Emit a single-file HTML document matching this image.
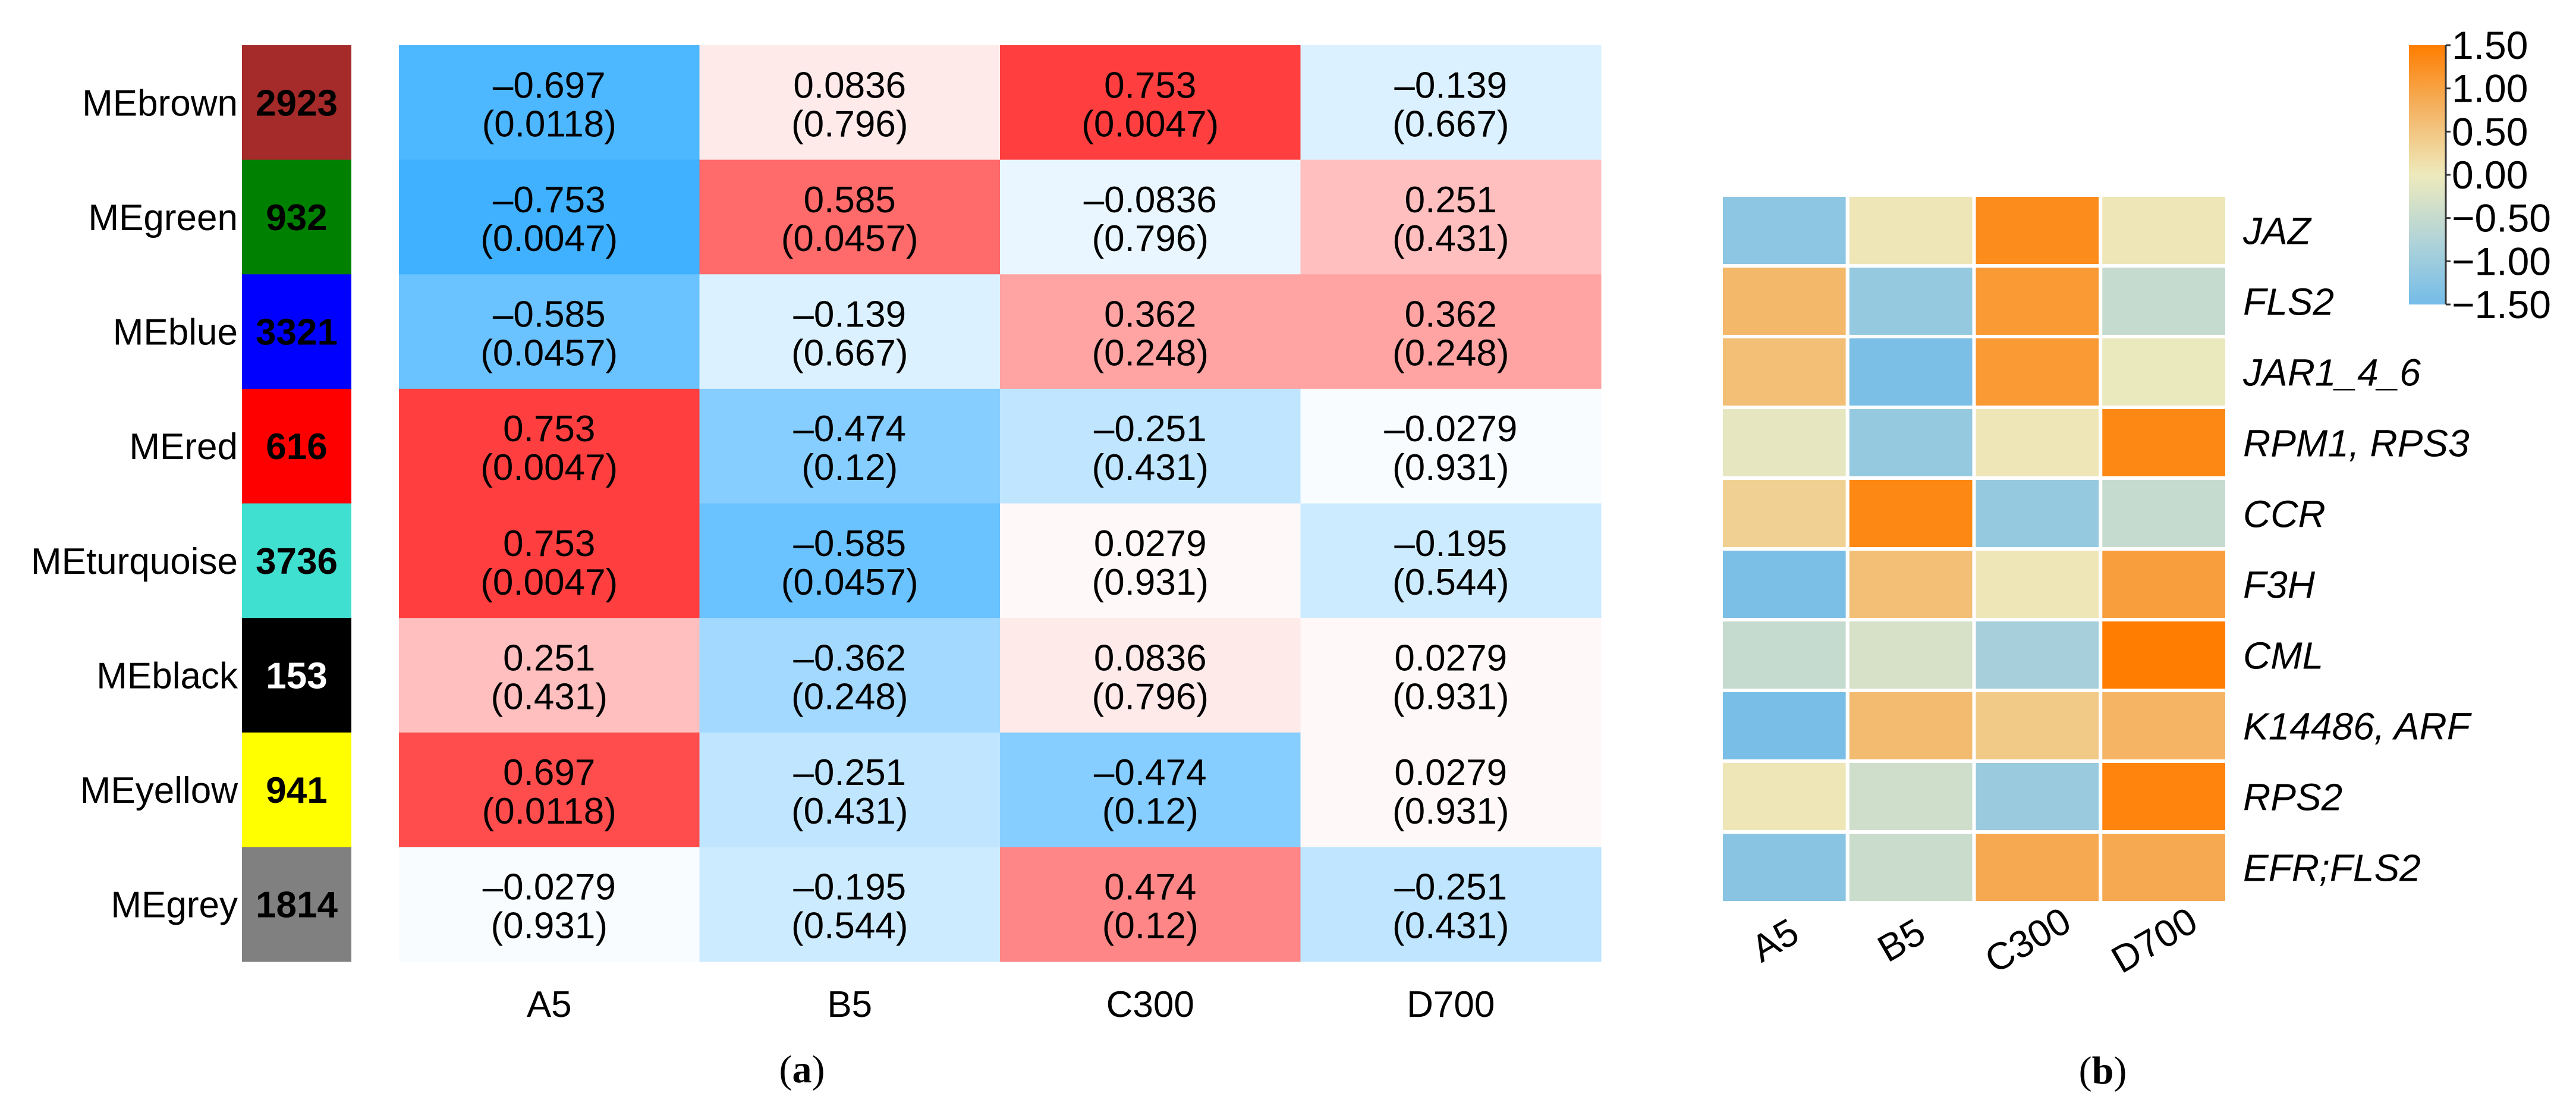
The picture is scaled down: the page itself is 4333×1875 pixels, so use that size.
<!DOCTYPE html>
<html><head><meta charset="utf-8">
<style>
html,body{margin:0;padding:0;background:#fff;}
svg{display:block;}
text{font-family:"Liberation Sans",Arial,sans-serif;}
</style></head>
<body>
<svg id="fig" xmlns="http://www.w3.org/2000/svg" width="4333" height="1875" viewBox="0 0 4333 1875">
<rect width="4333" height="1875" fill="#fff"/>
<g id="panelA"></g>
<g id="panelB"></g>
<text x="1349" y="1820" font-size="66" text-anchor="middle" style="font-family:'Liberation Serif',serif">(<tspan font-weight="bold">a</tspan>)</text>
<text x="3537" y="1822" font-size="66" text-anchor="middle" style="font-family:'Liberation Serif',serif">(<tspan font-weight="bold">b</tspan>)</text>
</svg>
<script>
// ----- Panel A data -----
const modules = ["MEbrown","MEgreen","MEblue","MEred","MEturquoise","MEblack","MEyellow","MEgrey"];
const moduleColors = ["#a52a2a","#008000","#0000ff","#ff0000","#40e0d0","#000000","#ffff00","#808080"];
const moduleSizes = ["2923","932","3321","616","3736","153","941","1814"];
const traits = ["A5","B5","C300","D700"];
const corrA5 = [-0.697,-0.753,-0.585,0.753,0.753,0.251,0.697,-0.0279];
const corrB5 = [0.0836,0.585,-0.139,-0.474,-0.585,-0.362,-0.251,-0.195];
const corrC300 = [0.753,-0.0836,0.362,-0.251,0.0279,0.0836,-0.474,0.474];
const corrD700 = [-0.139,0.251,0.362,-0.0279,-0.195,0.0279,0.0279,-0.251];
const pA5 = ["0.0118","0.0047","0.0457","0.0047","0.0047","0.431","0.0118","0.931"];
const pB5 = ["0.796","0.0457","0.667","0.12","0.0457","0.248","0.431","0.544"];
const pC300 = ["0.0047","0.796","0.248","0.431","0.931","0.796","0.12","0.12"];
const pD700 = ["0.667","0.431","0.248","0.931","0.544","0.931","0.931","0.431"];

// ----- Panel B data -----
const genes = ["JAZ","FLS2","JAR1_4_6","RPM1, RPS3","CCR","F3H","CML","K14486, ARF","RPS2","EFR;FLS2"];
const samples = ["A5","B5","C300","D700"];
const exprA5 = [-1.2,0.7,0.6,-0.1,0.35,-1.4,-0.5,-1.45,0.05,-1.25];
const exprB5 = [0.05,-1.1,-1.4,-1.1,1.35,0.6,-0.3,0.65,-0.4,-0.45];
const exprC300 = [1.3,1.1,1.1,0.05,-1.1,0.05,-0.9,0.45,-1.05,0.9];
const exprD700 = [0.05,-0.5,-0.05,1.35,-0.5,1.05,1.5,0.75,1.4,0.9];
const scaleTicks = ["1.50","1.00","0.50","0.00","\u22120.50","\u22121.00","\u22121.50"];
const scaleTickValues = [1.5,1,0.5,0,-0.5,-1,-1.5];

const NS="http://www.w3.org/2000/svg";
function mk(tag,attrs,parent){const e=document.createElementNS(NS,tag);for(const k in attrs)e.setAttribute(k,attrs[k]);parent.appendChild(e);return e;}
function fmt(v){return (v<0?"\u2013":"")+String(Math.abs(v));}

// Panel A scales
const aX0=671,aX1=2693,aY0=76,aY1=1617;
const aColW=(aX1-aX0)/traits.length, aRowH=(aY1-aY0)/modules.length;
const xA=i=>aX0+i*aColW, yA=i=>aY0+i*aRowH;
function corrColor(v){
  const t=Math.min(1,Math.abs(v));
  let r,g,b;
  if(v<0){r=255-t*255;g=255-t*(255-151);b=255;}
  else{r=255;g=255-t*255;b=255-t*255;}
  return `rgb(${Math.round(r)},${Math.round(g)},${Math.round(b)})`;
}
const A=document.getElementById('panelA');
const corrCols=[corrA5,corrB5,corrC300,corrD700];
const pCols=[pA5,pB5,pC300,pD700];
modules.forEach((m,i)=>{
  const lab=mk('text',{x:400,y:yA(i)+aRowH/2+22,'font-size':62,'text-anchor':'end'},A);
  lab.textContent=m;
  
  
  const sw=mk('rect',{x:407,y:yA(i),width:184,height:aRowH+0.5,fill:moduleColors[i]},A);
  
  
  const sz=mk('text',{x:499,y:yA(i)+aRowH/2+22,'font-size':62,'font-weight':'bold','text-anchor':'middle',fill:moduleColors[i]==="#000000"?"#fff":"#000"},A);
  sz.textContent=moduleSizes[i];
  
  
  corrCols.forEach((col,j)=>{
    const c=mk('rect',{x:xA(j),y:yA(i),width:aColW+0.5,height:aRowH+0.5,fill:corrColor(col[i])},A);
    
    
    const cx=xA(j)+aColW/2, cy=yA(i)+aRowH/2;
    const t1=mk('text',{x:cx,y:cy-8,'font-size':62,'text-anchor':'middle'},A);
    t1.textContent=fmt(col[i]);
    
    
    const t2=mk('text',{x:cx,y:cy+57,'font-size':62,'text-anchor':'middle'},A);
    t2.textContent="("+pCols[j][i]+")";
    
    
  });
});
traits.forEach((t,j)=>{
  const e=mk('text',{x:xA(j)+aColW/2,y:1710,'font-size':62,'text-anchor':'middle'},A);
  e.textContent=t;
  
  
});

// Panel B scales
const bX0=2895,bX1=3746,bY0=328,bY1=1518;
const bColW=(bX1-bX0)/samples.length, bRowH=(bY1-bY0)/genes.length;
const xB=i=>bX0+i*bColW, yB=i=>bY0+i*bRowH;
const stops=[[-1.5,[116,188,232]],[-0.75,[178,212,216]],[0,[238,234,188]],[0.75,[244,180,100]],[1.5,[255,125,0]]];
function exprColor(v){
  v=Math.max(-1.5,Math.min(1.5,v));
  for(let k=0;k<stops.length-1;k++){
    const [a,ca]=stops[k],[b,cb]=stops[k+1];
    if(v>=a&&v<=b){const t=(v-a)/(b-a);return `rgb(${ca.map((c,i)=>Math.round(c+(cb[i]-c)*t)).join(',')})`;}
  }
  return 'rgb(255,125,0)';
}
const B=document.getElementById('panelB');
const exprCols=[exprA5,exprB5,exprC300,exprD700];
genes.forEach((g,i)=>{
  exprCols.forEach((col,j)=>{
    const c=mk('rect',{x:xB(j),y:yB(i),width:bColW,height:bRowH,fill:exprColor(col[i]),stroke:'#fff','stroke-width':6},B);
    
    
  });
  const l=mk('text',{x:3773,y:yB(i)+bRowH/2+23,'font-size':64,'font-style':'italic'},B);
  l.textContent=g;
  
  
});
samples.forEach((s,j)=>{
  const cx=xB(j)+bColW/2-5, cy=1600;
  const e=mk('text',{x:cx,y:cy,'font-size':64,'text-anchor':'middle',transform:`rotate(-30 ${cx} ${cy})`},B);
  e.textContent=s;
  
  
});
// color scale
const cbX=4052,cbW=62,cbY0=76,cbY1=512;
const yCb=v=>cbY0+(1.5-v)/3*(cbY1-cbY0);
const defs=mk('defs',{},B);
const grad=mk('linearGradient',{id:'cbg',x1:0,y1:0,x2:0,y2:1},defs);
stops.slice().reverse().forEach(s=>{mk('stop',{offset:(1.5-s[0])/3,'stop-color':`rgb(${s[1].join(',')})`},grad);});
const cb=mk('rect',{x:cbX,y:cbY0,width:cbW,height:cbY1-cbY0,fill:'url(#cbg)'},B);


mk('line',{x1:cbX+cbW,y1:cbY0,x2:cbX+cbW,y2:cbY1,stroke:'#333','stroke-width':3},B);
scaleTickValues.forEach((v,k)=>{
  mk('line',{x1:cbX+cbW,y1:yCb(v),x2:cbX+cbW+8,y2:yCb(v),stroke:'#333','stroke-width':3},B);
  const t=mk('text',{x:4124,y:yCb(v)+23,'font-size':66},B);
  t.textContent=scaleTicks[k];
  
  
});
</script>
</body></html>
